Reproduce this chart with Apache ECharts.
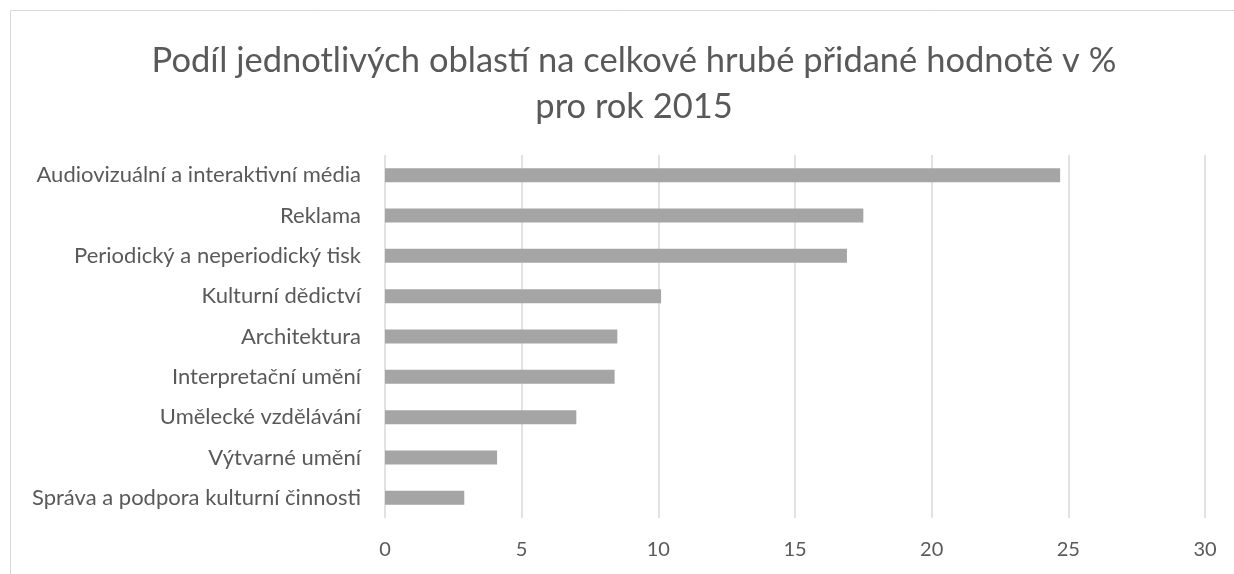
<!DOCTYPE html>
<html>
<head>
<meta charset="utf-8">
<script src="https://cdn.jsdelivr.net/npm/echarts@6/dist/echarts.min.js"></script>
<style>
html,body{margin:0;padding:0;background:#fff;}
#chart{width:1234px;height:574px;}
</style>
</head>
<body>
<div id="chart"></div>
<script>
const titleLines = ['Podíl jednotlivých oblastí na celkové hrubé přidané hodnotě v %', 'pro rok 2015'];
const categories = [
  'Audiovizuální a interaktivní média',
  'Reklama',
  'Periodický a neperiodický tisk',
  'Kulturní dědictví',
  'Architektura',
  'Interpretační umění',
  'Umělecké vzdělávání',
  'Výtvarné umění',
  'Správa a podpora kulturní činnosti'
];
const values = [24.7, 17.5, 16.9, 10.1, 8.5, 8.4, 7.0, 4.1, 2.9];
const axisMin = 0, axisMax = 30, axisStep = 5;

const chart = echarts.init(document.getElementById('chart'));
chart.setOption({
  animation: false,
  backgroundColor: '#fff',
  title: {
    text: titleLines.join('\n'),
    left: 629,
    textAlign: 'center',
    top: 33,
    textStyle: {
      fontFamily: 'Lato',
      fontWeight: 400,
      fontSize: 34.5,
      lineHeight: 46,
      color: '#595959'
    }
  },
  graphic: [{
    type: 'rect',
    shape: {x: 10.5, y: 10.5, width: 1400, height: 800},
    style: {fill: 'none', stroke: '#d9d9d9', lineWidth: 1},
    silent: true
  }],
  grid: {left: 385, right: 29, top: 155, bottom: 56, containLabel: false},
  xAxis: {
    type: 'value',
    min: axisMin, max: axisMax, interval: axisStep,
    axisLine: {show: false},
    axisTick: {show: false},
    splitLine: {show: true, lineStyle: {color: '#d9d9d9', width: 1.5}},
    axisLabel: {fontFamily: 'Lato', fontSize: 20, color: '#595959', margin: 22}
  },
  yAxis: {
    type: 'category',
    data: categories,
    inverse: true,
    axisLine: {show: false},
    axisTick: {show: false},
    axisLabel: {fontFamily: 'Lato', fontSize: 22, color: '#595959', margin: 24}
  },
  series: [{
    type: 'bar',
    data: values,
    barWidth: 14,
    itemStyle: {color: '#a5a5a5'}
  }]
});
</script>
</body>
</html>
